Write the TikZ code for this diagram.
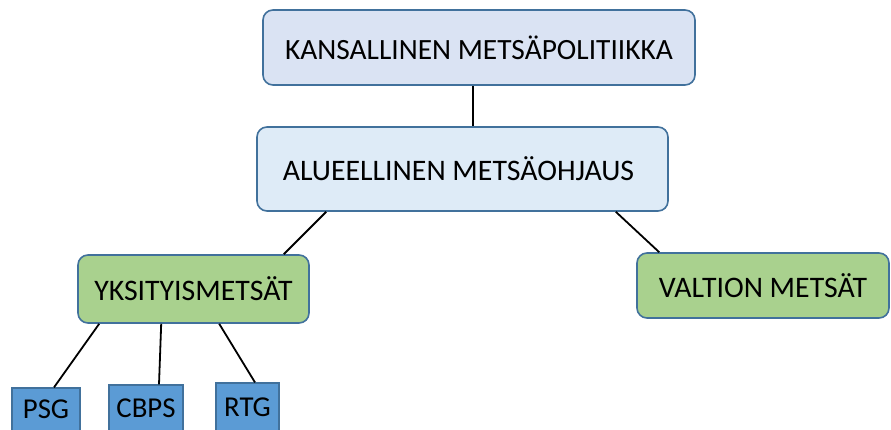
\documentclass[tikz,border=0pt]{standalone}
\usepackage{fontspec}
\setmainfont{Carlito}
\definecolor{bordc}{HTML}{41719C}
\definecolor{topfill}{HTML}{DAE3F3}
\definecolor{midfill}{HTML}{DEEBF7}
\definecolor{greenfill}{HTML}{A9D18E}
\definecolor{bluefill}{HTML}{5B9BD5}
\tikzset{
  rbox/.style={draw=bordc, line width=1.6pt, rounded corners=10pt, align=center, inner sep=0pt, font=\fontsize{29.8}{32}\selectfont},
  sqbox/.style={draw=bordc, line width=1.2pt, fill=bluefill, inner sep=0pt, font=\fontsize{28.8}{31}\selectfont},
  conn/.style={draw=black, line width=1.8pt},
}
\begin{document}
\begin{tikzpicture}[x=1pt,y=-1pt]
\useasboundingbox (0,0) rectangle (891,430);
\clip (0,0) rectangle (891,430);
\node[rbox, fill=topfill, minimum width=432pt, minimum height=75pt, font=\fontsize{29.4}{32}\selectfont] (top) at (479,47.5) {KANSALLINEN METSÄPOLITIIKKA};
\node[rbox, fill=midfill, minimum width=411pt, minimum height=84pt] (mid) at (462.5,169) {ALUEELLINEN METSÄOHJAUS\hspace*{8pt}};
\node[rbox, fill=greenfill, minimum width=231pt, minimum height=68pt] (yks) at (193.5,289) {YKSITYISMETSÄT};
\node[rbox, fill=greenfill, minimum width=252pt, minimum height=65pt] (val) at (763,285.5) {VALTION METSÄT};
\node[sqbox, minimum width=68pt, minimum height=43pt] (psg) at (46,409.5) {PSG};
\node[sqbox, minimum width=74pt, minimum height=46pt] (cbps) at (146,408) {CBPS};
\node[sqbox, minimum width=63pt, minimum height=48pt] (rtg) at (247.5,407) {RTG};
\draw[conn] ([xshift=-6pt]top.south) -- ([xshift=-6pt]top.south |- mid.north);
\draw[conn] ([xshift=70pt]mid.south west) -- ([xshift=-26pt]yks.north east);
\draw[conn] ([xshift=-53pt]mid.south east) -- ([xshift=23pt]val.north west);
\draw[conn] ([xshift=22pt]yks.south west) -- ([xshift=8pt]psg.north);
\draw[conn] ([xshift=84pt]yks.south west) -- ([xshift=13pt]cbps.north);
\draw[conn] ([xshift=142pt]yks.south west) -- ([xshift=7.5pt]rtg.north);
\end{tikzpicture}
\end{document}
